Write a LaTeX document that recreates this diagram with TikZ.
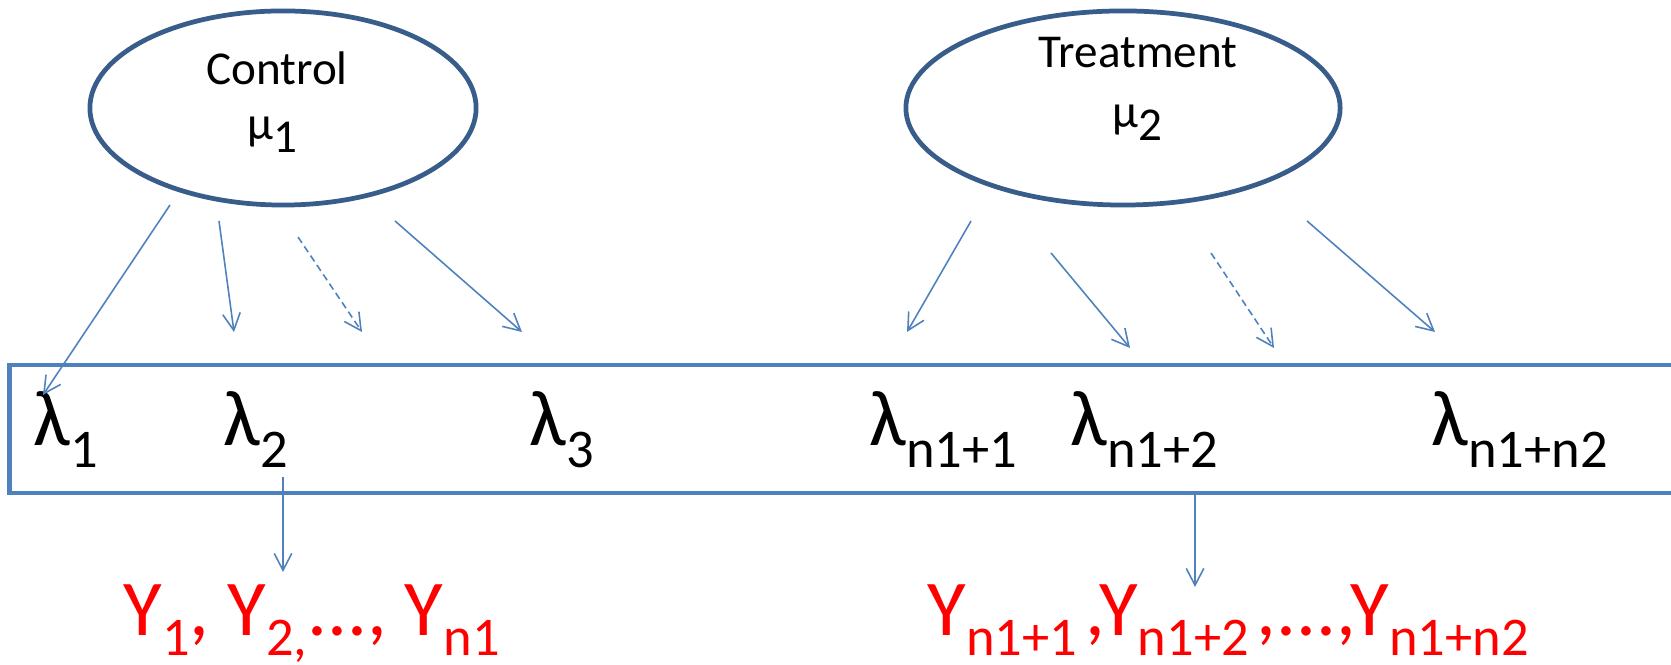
\documentclass[tikz,border=0pt]{standalone}
\usepackage{fontspec}
\setmainfont{Carlito}
\usetikzlibrary{arrows.meta,shapes.geometric}

\definecolor{ringblue}{RGB}{56,93,138}
\definecolor{plateblue}{RGB}{79,129,189}
\definecolor{obsred}{RGB}{255,0,0}

\newcommand{\lamsub}[1]{λ\raisebox{-6.2pt}{\fontsize{15.5}{18}\selectfont #1}}
\newcommand{\obssub}[1]{\raisebox{-5.6pt}{\fontsize{15.5}{18}\selectfont #1}}
\newcommand{\musub}[1]{μ\raisebox{-3.6pt}{#1}}

\tikzset{
  group/.style={ellipse, draw=ringblue, line width=1.35pt, minimum height=1.94cm, inner sep=0pt},
  grouptext/.style={anchor=base, inner sep=0pt, font=\fontsize{13.4}{16}\selectfont},
  plate/.style={draw=plateblue, line width=1.35pt, minimum width=16.9cm, minimum height=1.28cm, inner sep=0pt},
  rate/.style={anchor=base west, inner sep=0pt, font=\fontsize{22.5}{26}\selectfont},
  obs/.style={anchor=base west, inner sep=0pt, text=obsred, font=\fontsize{22.5}{27}\selectfont},
  link/.style={draw=plateblue, line width=0.45pt, -{Straight Barb[length=4.8pt,width=5pt]}},
  maybe/.style={link, dash pattern=on 2pt off 1.2pt},
}

\begin{document}
\begin{tikzpicture}[x=0.01cm, y=-0.01cm]
  \useasboundingbox (0,0) rectangle (1671,665);
  \clip (0,0) rectangle (1671,665);

  % the two groups
  \node[group, minimum width=3.86cm] (ctrl) at (283,108) {};
  \node[group, minimum width=4.34cm] (trt) at (1123,108) {};
  \node[grouptext] (ctrlname) at (277,85) {Control};
  \node[grouptext] (ctrlmean) at (272,140) {\musub{1}};
  \node[grouptext] (trtname) at (1138,68) {Treatment};
  \node[grouptext] (trtmean) at (1137,128) {\musub{2}};

  % plate of rates
  \node[plate] (plate) at (855,429) {};
  \node[rate] (lam1) at (33,446) {\lamsub{1}};
  \node[rate] (lam2) at (223,446) {\lamsub{2}};
  \node[rate] (lam3) at (529,446) {\lamsub{3}};
  \node[rate] (lamb1) at (869,446) {\lamsub{n1+1}};
  \node[rate] (lamb2) at (1070,446) {\lamsub{n1+2}};
  \node[rate] (lambn) at (1431,446) {\lamsub{n1+n2}};

  % observed counts
  \node[obs] (ctrlobs) at (123,636) {Y\obssub{1}, Y\obssub{2,}..., Y\obssub{n1}};
  \node[obs] (trtobs) at (927,636) {Y\obssub{n1+1}\hspace{0.1em},Y\obssub{n1+2}\hspace{0.1em},...,Y\obssub{n1+n2}};

  % arrow ends
  \coordinate (c1) at (170,205);  \coordinate (r1) at (43,395);
  \coordinate (c2) at (219,221);  \coordinate (r2) at (234,332);
  \coordinate (c3) at (298,237);  \coordinate (r3) at (362,332);
  \coordinate (c4) at (395,221);  \coordinate (r4) at (522,332);
  \coordinate (t1) at (971,221);  \coordinate (s1) at (907,332);
  \coordinate (t2) at (1051,253); \coordinate (s2) at (1130,348);
  \coordinate (t3) at (1211,253); \coordinate (s3) at (1274,348);
  \coordinate (t4) at (1307,221); \coordinate (s4) at (1435,332);
  \coordinate (d1) at (283,477);  \coordinate (y1) at (283,572);
  \coordinate (d2) at (1195,493); \coordinate (y2) at (1195,587);

  \draw[link] (c1) -- (r1);
  \draw[link] (c2) -- (r2);
  \draw[maybe] (c3) -- (r3);
  \draw[link] (c4) -- (r4);
  \draw[link] (t1) -- (s1);
  \draw[link] (t2) -- (s2);
  \draw[maybe] (t3) -- (s3);
  \draw[link] (t4) -- (s4);
  \draw[link] (d1) -- (y1);
  \draw[link] (d2) -- (y2);
\end{tikzpicture}
\end{document}
